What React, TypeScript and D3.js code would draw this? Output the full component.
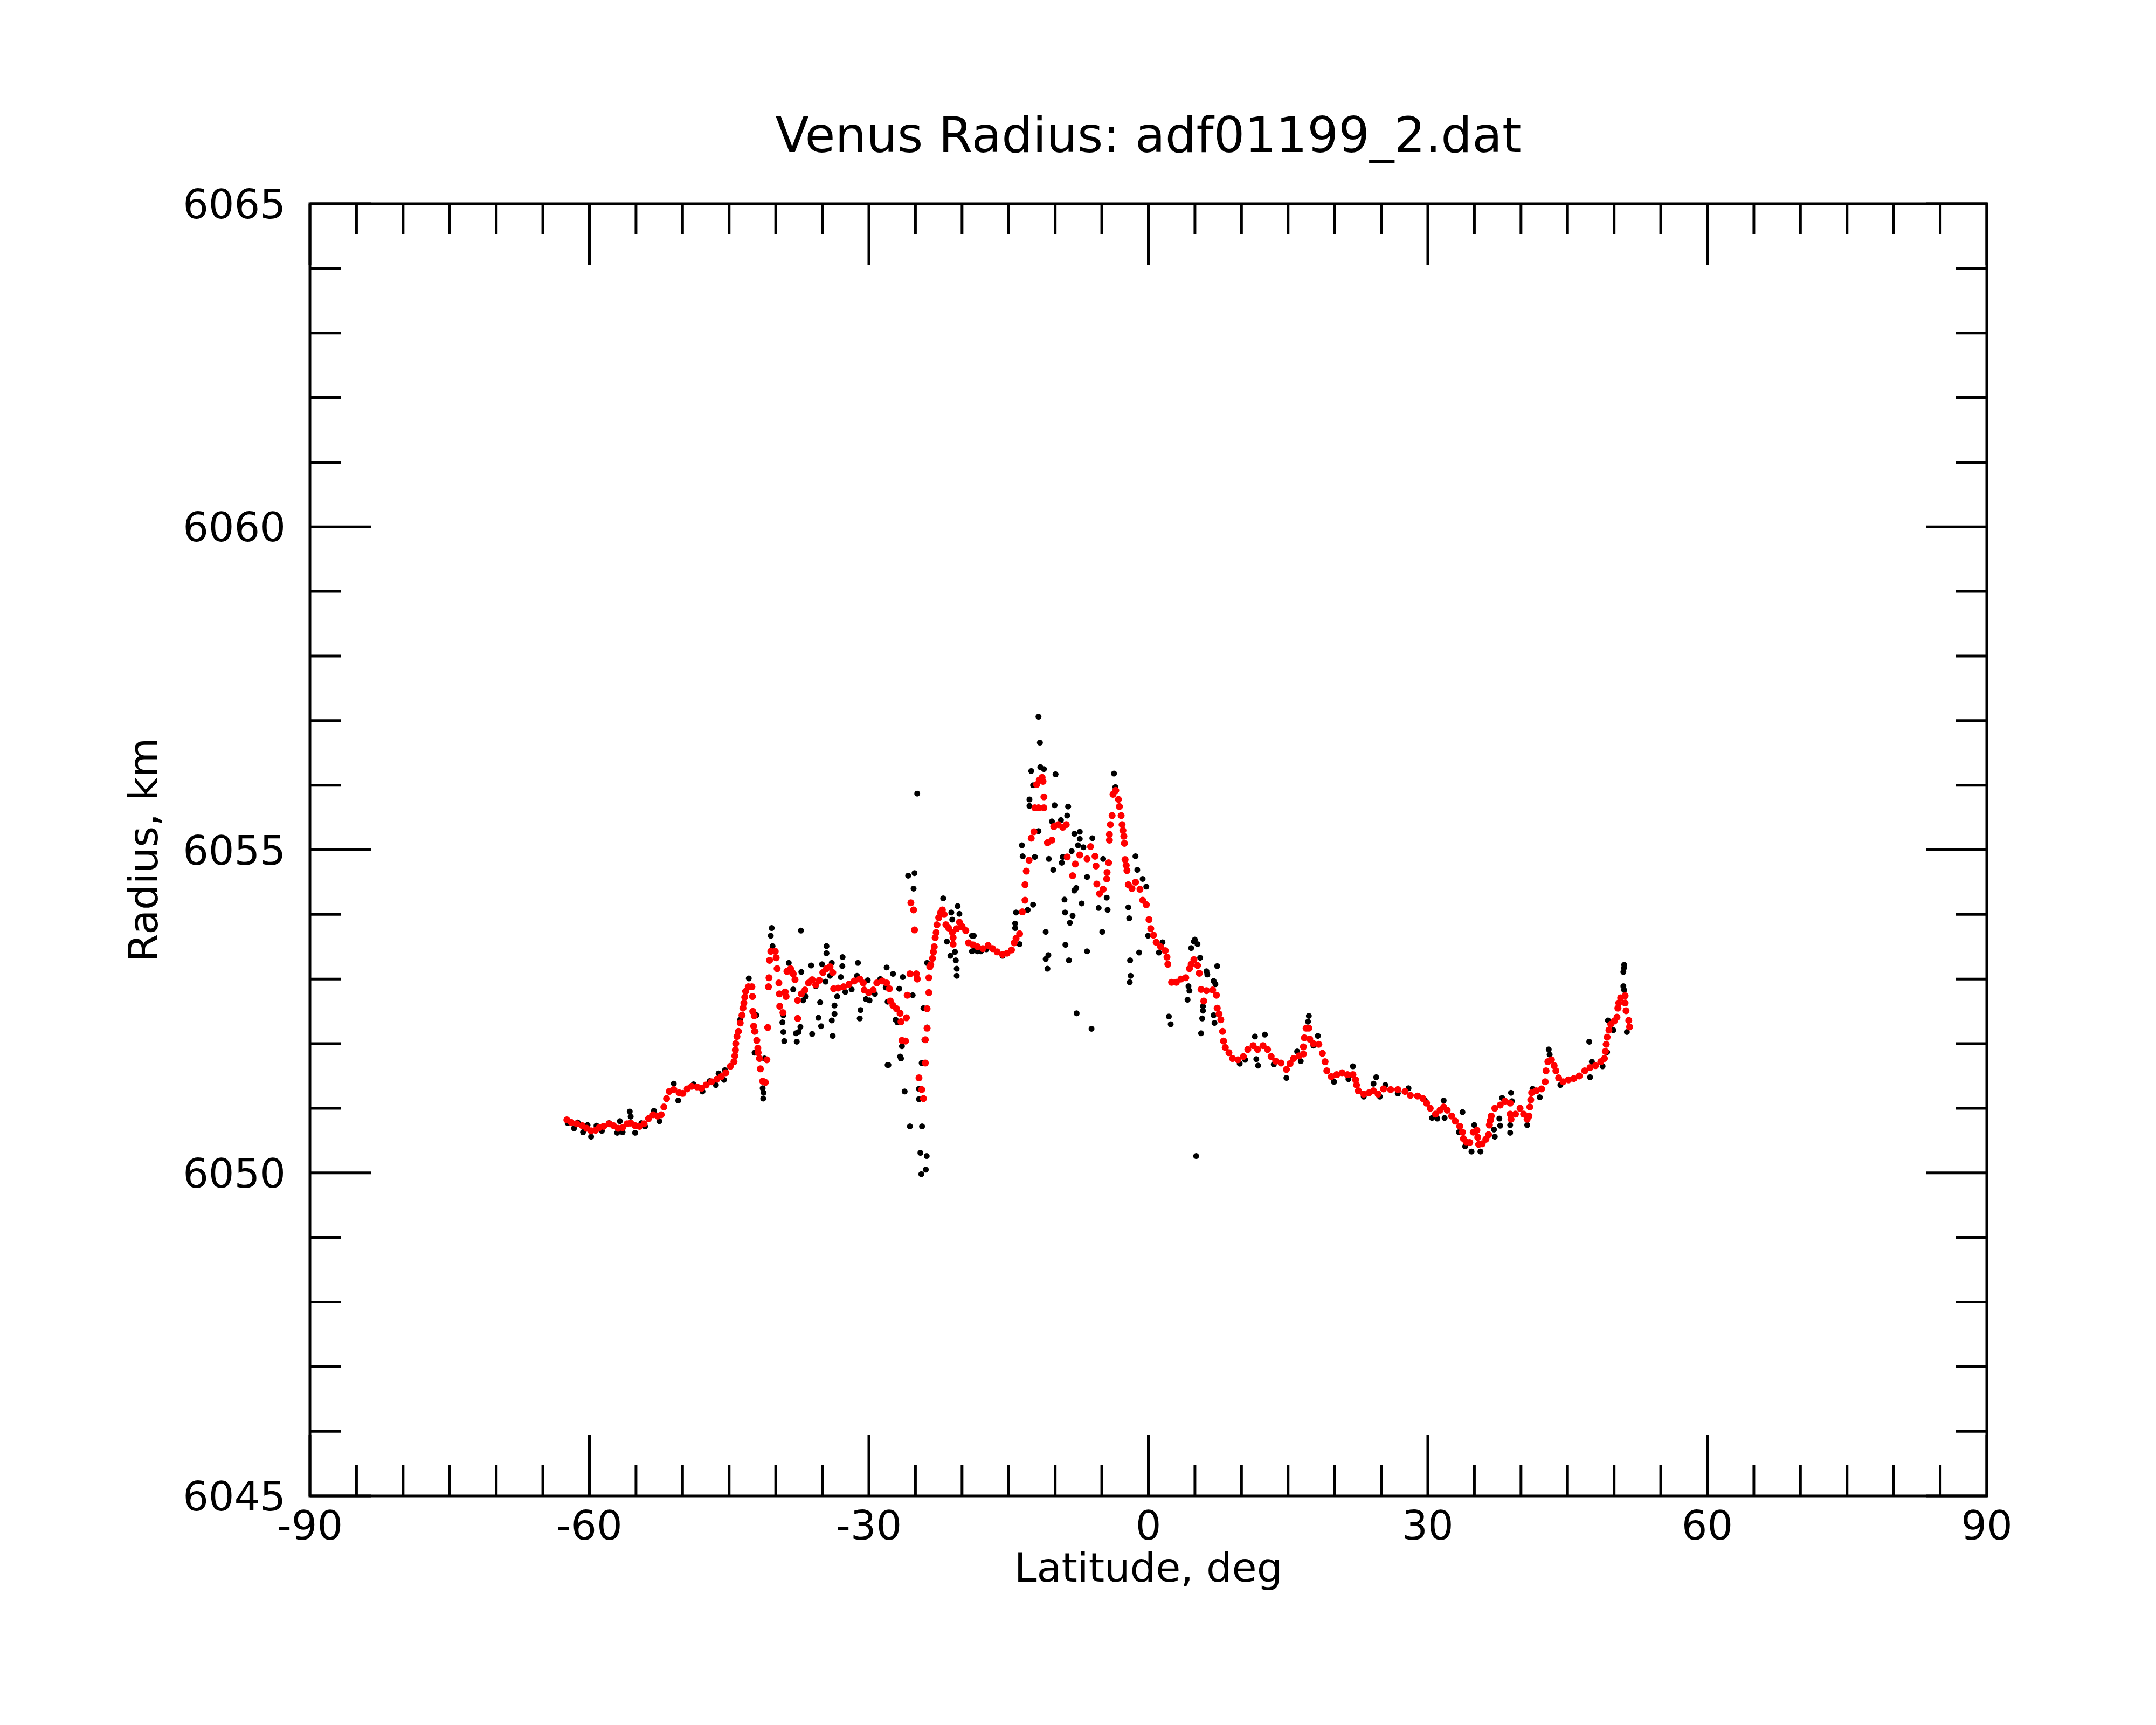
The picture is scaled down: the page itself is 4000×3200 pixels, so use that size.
import React from 'react';
import * as d3 from 'd3';

const chartTitle = 'Venus Radius: adf01199_2.dat';
const xAxisTitle = 'Latitude, deg';
const yAxisTitle = 'Radius, km';
const xTickValues = [-90, -60, -30, 0, 30, 60, 90];
const yTickValues = [6045, 6050, 6055, 6060, 6065];

// raw radius samples [latitude, radius] (black)
const rawPoints: [number, number][] = [
  [-62.33, 6050.77], [-61.65, 6050.69], [-61.26, 6050.78], [-60.68, 6050.63], [-60.2, 6050.74],
  [-59.82, 6050.56], [-59.24, 6050.73], [-58.66, 6050.65], [-57.89, 6050.77], [-57.02, 6050.62],
  [-56.73, 6050.8], [-56.44, 6050.63], [-55.67, 6050.95], [-55.57, 6050.87], [-55.09, 6050.62],
  [-54.42, 6050.77], [-54.03, 6050.72], [-53.07, 6050.96], [-52.49, 6050.8], [-50.94, 6051.38],
  [-50.46, 6051.12], [-48.82, 6051.37], [-47.86, 6051.26], [-47.09, 6051.42], [-46.42, 6051.36],
  [-46.13, 6051.54], [-45.55, 6051.44], [-45.45, 6051.59], [-43.81, 6052.37], [-42.89, 6053.01],
  [-42.08, 6052.44], [-42.17, 6052.19], [-42.27, 6051.86], [-41.4, 6051.31], [-41.3, 6051.24],
  [-41.34, 6051.15], [-41.21, 6051.77], [-40.43, 6053.79], [-40.53, 6053.67], [-40.34, 6053.51],
  [-39.18, 6052.44], [-39.28, 6052.33], [-39.18, 6052.18], [-39.08, 6052.04], [-38.6, 6053.25],
  [-38.12, 6052.84], [-37.83, 6052.16], [-37.74, 6052.03], [-37.29, 6053.75], [-37.54, 6052.18],
  [-37.35, 6052.26], [-37.25, 6053.11], [-37.06, 6052.67], [-36.77, 6052.73], [-36.09, 6052.15],
  [-36.19, 6053.21], [-35.71, 6052.89], [-35.42, 6052.4], [-35.13, 6052.27], [-35.23, 6052.64],
  [-35.03, 6053.23], [-34.65, 6052.96], [-34.55, 6053.51], [-34.55, 6053.4], [-33.98, 6053.25],
  [-34.17, 6053.05], [-33.88, 6052.12], [-33.98, 6052.36], [-33.69, 6052.46], [-33.69, 6052.59],
  [-33.4, 6052.73], [-32.82, 6053.34], [-32.85, 6053.2], [-33.01, 6053.03], [-32.53, 6052.8],
  [-31.85, 6052.84], [-31.17, 6053.25], [-30.89, 6052.52], [-30.98, 6052.39], [-31.27, 6053.05],
  [-30.12, 6052.98], [-30.31, 6052.69], [-29.93, 6052.67], [-29.35, 6052.77], [-28.77, 6053.0],
  [-28.09, 6053.18], [-28.19, 6052.87], [-27.41, 6053.08], [-27.99, 6052.65], [-27.99, 6051.67],
  [-26.74, 6052.85], [-26.36, 6053.03], [-27.13, 6052.37], [-26.93, 6052.33], [-26.45, 6051.96],
  [-26.55, 6051.77], [-26.16, 6051.26], [-25.3, 6052.75], [-24.14, 6052.55], [-24.04, 6052.06],
  [-24.33, 6051.7], [-23.75, 6052.25], [-23.75, 6053.25], [-22.02, 6054.25], [-21.15, 6054.03],
  [-20.47, 6054.13], [-20.28, 6054.01], [-21.63, 6053.58], [-21.25, 6053.36], [-20.67, 6053.29],
  [-20.57, 6053.16], [-20.57, 6053.05], [-21.05, 6053.92], [-18.93, 6053.67], [-18.93, 6053.43],
  [-18.64, 6053.47], [-17.97, 6053.43], [-26.64, 6051.8], [-27.9, 6051.67], [-24.62, 6051.3],
  [-24.62, 6051.14], [-25.59, 6050.72], [-24.29, 6050.72], [-24.47, 6050.31], [-23.79, 6050.26],
  [-23.89, 6050.05], [-24.37, 6049.98], [-24.81, 6055.87], [-25.78, 6054.6], [-25.1, 6054.64],
  [-25.2, 6054.4], [-20.76, 6053.42], [-18.74, 6053.67], [-18.35, 6053.43], [-17.38, 6053.46],
  [-15.65, 6053.36], [-14.3, 6053.86], [-14.3, 6053.79], [-14.2, 6054.03], [-13.82, 6053.54],
  [-12.95, 6054.07], [-12.37, 6054.15], [-13.57, 6055.07], [-13.49, 6054.9], [-12.18, 6054.89],
  [-11.79, 6055.29], [-12.76, 6055.78], [-12.76, 6055.68], [-12.57, 6056.22], [-12.37, 6056.0],
  [-11.64, 6056.66], [-11.79, 6057.06], [-11.6, 6056.28], [-11.21, 6056.25], [-9.96, 6056.17],
  [-10.06, 6055.69], [-8.61, 6055.67], [-8.71, 6055.53], [-10.35, 6055.44], [-9.38, 6055.46],
  [-10.68, 6054.86], [-10.21, 6054.69], [-7.94, 6055.25], [-8.23, 6054.98], [-9.29, 6054.8],
  [-7.94, 6054.37], [-9.0, 6054.23], [-8.94, 6054.03], [-8.13, 6053.98], [-8.42, 6053.87],
  [-11.02, 6053.73], [-8.9, 6053.53], [-10.73, 6053.37], [-11.02, 6053.31], [-8.52, 6053.29],
  [-10.83, 6053.16], [-7.7, 6052.47], [-6.1, 6052.23], [-3.69, 6056.18], [-3.54, 6055.97],
  [-7.36, 6055.28], [-7.36, 6055.17], [-6.01, 6055.18], [-7.55, 6055.07], [-6.97, 6055.04],
  [-6.58, 6054.58], [-4.85, 6054.86], [-1.38, 6054.9], [-1.19, 6054.69], [-0.61, 6054.55],
  [-0.22, 6054.43], [-7.74, 6054.41], [-7.16, 6054.17], [-5.33, 6054.1], [-4.37, 6054.07],
  [-4.47, 6054.26], [-2.15, 6054.11], [-2.05, 6053.94], [-4.95, 6053.73], [-0.03, 6053.67],
  [-6.58, 6053.43], [-0.99, 6053.41], [-1.96, 6053.29], [1.13, 6053.41], [1.52, 6053.57],
  [-9.19, 6054.89], [-1.9, 6053.05], [-2.0, 6052.95], [2.2, 6052.42], [2.4, 6052.3],
  [4.99, 6053.61], [4.6, 6053.48], [5.56, 6053.33], [7.39, 6053.2], [5.13, 6050.26],
  [4.89, 6053.58], [5.28, 6053.54], [6.24, 6053.12], [6.33, 6053.07], [7.01, 6052.97],
  [7.2, 6052.92], [4.31, 6052.89], [4.41, 6052.82], [4.21, 6052.68], [5.86, 6052.58],
  [5.86, 6052.51], [7.01, 6052.44], [5.78, 6052.39], [7.1, 6052.32], [5.66, 6052.16],
  [11.44, 6052.11], [12.51, 6052.14], [11.59, 6051.76], [11.78, 6051.66], [9.81, 6051.69],
  [10.39, 6051.75], [17.23, 6052.43], [17.14, 6052.34], [18.2, 6052.12], [17.72, 6051.97],
  [15.98, 6051.88], [16.36, 6051.73], [14.82, 6051.47], [13.47, 6051.68], [21.96, 6051.65],
  [24.46, 6051.48], [24.17, 6051.38], [25.44, 6051.36], [19.93, 6051.41], [21.48, 6051.45],
  [27.93, 6051.31], [23.12, 6051.18], [24.85, 6051.18], [26.78, 6051.23], [29.67, 6051.13],
  [51.08, 6053.22], [51.05, 6053.17], [50.99, 6053.11], [50.99, 6052.89], [51.08, 6052.83],
  [49.34, 6052.36], [49.92, 6052.21], [51.37, 6052.18], [47.33, 6052.03], [49.25, 6051.87],
  [48.76, 6051.65], [47.61, 6051.72], [47.42, 6051.48], [42.98, 6051.91], [43.08, 6051.83],
  [44.23, 6051.36], [41.24, 6051.3], [42.02, 6051.17], [38.93, 6051.24], [39.03, 6051.11],
  [37.97, 6051.16], [37.68, 6050.84], [37.77, 6050.73], [37.1, 6050.67], [37.19, 6050.56],
  [38.84, 6050.62], [38.84, 6050.74], [40.67, 6050.74], [33.72, 6050.94], [31.7, 6051.12],
  [31.8, 6050.85], [30.45, 6050.85], [31.02, 6050.84], [34.98, 6050.74], [34.69, 6050.33],
  [35.65, 6050.33], [34.01, 6050.41], [33.34, 6050.63],
];

// smoothed radius profile [latitude, radius] (red)
const smoothPoints: [number, number][] = [
  [-62.42, 6050.82], [-61.94, 6050.78], [-61.36, 6050.76], [-60.78, 6050.73], [-60.3, 6050.69],
  [-59.82, 6050.65], [-59.34, 6050.66], [-58.95, 6050.7], [-58.47, 6050.72], [-57.89, 6050.76],
  [-57.41, 6050.73], [-56.92, 6050.69], [-56.44, 6050.7], [-55.96, 6050.76], [-55.57, 6050.77],
  [-55.09, 6050.73], [-54.61, 6050.72], [-54.13, 6050.76], [-53.65, 6050.84], [-53.16, 6050.9],
  [-52.68, 6050.88], [-52.29, 6050.9], [-52.01, 6051.02], [-51.72, 6051.15], [-51.43, 6051.26],
  [-50.94, 6051.29], [-50.37, 6051.24], [-49.98, 6051.23], [-49.5, 6051.3], [-49.02, 6051.34],
  [-48.44, 6051.33], [-47.95, 6051.31], [-47.47, 6051.36], [-46.9, 6051.41], [-46.32, 6051.45],
  [-45.84, 6051.49], [-45.35, 6051.55], [-44.87, 6051.65], [-44.48, 6051.72], [-44.39, 6051.81],
  [-44.33, 6051.9], [-44.29, 6052.0], [-44.16, 6052.11], [-44.0, 6052.19], [-43.81, 6052.32],
  [-43.62, 6052.44], [-43.52, 6052.55], [-43.42, 6052.63], [-43.33, 6052.72], [-43.23, 6052.81],
  [-42.94, 6052.88], [-42.56, 6052.88], [-42.5, 6052.73], [-42.46, 6052.5], [-42.31, 6052.43],
  [-42.37, 6052.27], [-42.27, 6052.19], [-42.03, 6052.05], [-41.92, 6051.93], [-41.88, 6051.86],
  [-41.75, 6051.77], [-41.65, 6051.61], [-41.4, 6051.42], [-41.11, 6051.4], [-40.95, 6051.75],
  [-40.86, 6052.25], [-40.78, 6052.88], [-40.72, 6053.02], [-40.66, 6053.29], [-40.53, 6053.43],
  [-40.05, 6053.43], [-39.95, 6053.33], [-39.85, 6053.16], [-39.66, 6052.94], [-39.61, 6052.77],
  [-39.57, 6052.58], [-39.22, 6052.48], [-38.99, 6052.8], [-38.89, 6052.73], [-38.8, 6053.12],
  [-38.41, 6053.16], [-38.22, 6053.1], [-38.12, 6053.08], [-37.93, 6052.99], [-37.64, 6052.67],
  [-37.64, 6052.39], [-37.25, 6052.77], [-36.86, 6052.83], [-36.48, 6052.94], [-36.09, 6052.99],
  [-35.71, 6052.91], [-35.32, 6052.98], [-34.94, 6053.1], [-34.55, 6053.16], [-34.17, 6053.19],
  [-33.88, 6053.1], [-33.78, 6052.85], [-33.3, 6052.86], [-32.72, 6052.88], [-32.14, 6052.92],
  [-31.56, 6052.97], [-30.98, 6053.0], [-30.6, 6052.94], [-30.5, 6052.83], [-30.02, 6052.79],
  [-29.54, 6052.83], [-29.15, 6052.94], [-28.57, 6052.97], [-28.09, 6052.94], [-27.8, 6052.85],
  [-27.7, 6052.66], [-27.41, 6052.59], [-27.03, 6052.54], [-26.65, 6052.47], [-26.55, 6052.34],
  [-26.45, 6052.05], [-26.07, 6052.04], [-25.97, 6052.4], [-25.88, 6052.75], [-25.59, 6053.08],
  [-25.49, 6054.18], [-25.2, 6054.07], [-25.1, 6053.76], [-24.91, 6053.08], [-24.81, 6053.0],
  [-24.62, 6051.47], [-24.33, 6051.29], [-24.14, 6051.15], [-23.94, 6051.7], [-23.94, 6052.06],
  [-23.75, 6052.24], [-23.75, 6052.54], [-23.56, 6052.79], [-23.56, 6053.02], [-23.46, 6053.19],
  [-23.36, 6053.22], [-23.17, 6053.32], [-23.07, 6053.42], [-22.98, 6053.5], [-22.88, 6053.64],
  [-22.78, 6053.72], [-22.69, 6053.84], [-22.5, 6053.95], [-22.3, 6054.03], [-22.11, 6054.07],
  [-21.92, 6054.0], [-21.73, 6053.84], [-21.44, 6053.79], [-21.05, 6053.72], [-20.96, 6053.64],
  [-20.96, 6053.54], [-20.57, 6053.78], [-20.28, 6053.88], [-19.99, 6053.81], [-19.6, 6053.75],
  [-19.31, 6053.56], [-18.83, 6053.53], [-18.35, 6053.5], [-17.77, 6053.47], [-17.2, 6053.52],
  [-16.72, 6053.47], [-16.23, 6053.42], [-15.65, 6053.38], [-15.17, 6053.4], [-14.69, 6053.45],
  [-14.4, 6053.56], [-14.2, 6053.63], [-13.82, 6053.7], [-13.53, 6054.04], [-13.24, 6054.22],
  [-13.24, 6054.46], [-13.1, 6054.67], [-12.8, 6054.84], [-12.57, 6055.18], [-12.28, 6055.28],
  [-12.18, 6055.65], [-11.79, 6055.65], [-11.21, 6055.65], [-11.21, 6055.82], [-11.99, 6056.01],
  [-11.7, 6056.08], [-11.41, 6056.12], [-11.31, 6056.06], [-10.83, 6055.11], [-10.35, 6055.15],
  [-10.15, 6055.36], [-9.67, 6055.39], [-9.19, 6055.35], [-8.81, 6055.39], [-8.71, 6054.89],
  [-8.13, 6054.6], [-7.84, 6054.78], [-7.36, 6054.92], [-6.58, 6054.86], [-6.2, 6055.05],
  [-5.72, 6054.9], [-5.62, 6054.75], [-5.53, 6054.47], [-5.24, 6054.32], [-4.85, 6054.39],
  [-4.47, 6054.55], [-4.43, 6054.65], [-4.27, 6054.8], [-4.18, 6055.15], [-4.18, 6055.24],
  [-4.08, 6055.39], [-3.89, 6055.53], [-3.79, 6055.86], [-3.5, 6055.92], [-3.21, 6055.78],
  [-3.11, 6055.67], [-2.92, 6055.53], [-2.82, 6055.39], [-2.73, 6055.3], [-2.63, 6055.21],
  [-2.57, 6055.1], [-2.5, 6054.85], [-2.38, 6054.76], [-2.3, 6054.68], [-2.15, 6054.46],
  [-1.76, 6054.4], [-1.38, 6054.5], [-0.9, 6054.39], [-0.61, 6054.22], [-0.22, 6054.15],
  [0.07, 6053.92], [0.26, 6053.78], [0.55, 6053.68], [0.84, 6053.57], [1.32, 6053.5],
  [1.81, 6053.44], [2.0, 6053.34], [2.09, 6053.23], [2.5, 6052.95], [3.0, 6052.95],
  [3.5, 6053.0], [4.02, 6053.02], [4.41, 6053.16], [4.6, 6053.23], [4.89, 6053.3],
  [5.28, 6053.21], [5.47, 6053.09], [5.66, 6052.84], [5.95, 6052.66], [6.24, 6052.82],
  [6.91, 6052.83], [7.3, 6052.75], [7.39, 6052.55], [7.59, 6052.46], [7.78, 6052.37],
  [7.97, 6052.19], [8.07, 6052.04], [8.26, 6051.94], [8.65, 6051.86], [9.04, 6051.77],
  [9.62, 6051.75], [10.2, 6051.8], [10.68, 6051.91], [11.25, 6051.97], [11.73, 6051.91],
  [12.31, 6051.97], [12.8, 6051.91], [13.18, 6051.8], [13.67, 6051.73], [14.24, 6051.7],
  [14.82, 6051.6], [15.21, 6051.69], [15.59, 6051.77], [16.17, 6051.81], [16.65, 6051.84],
  [16.65, 6051.95], [16.75, 6052.09], [16.94, 6052.24], [17.23, 6052.24], [17.33, 6052.07],
  [17.72, 6052.0], [18.3, 6051.99], [18.68, 6051.85], [18.97, 6051.72], [19.16, 6051.58],
  [19.64, 6051.49], [20.22, 6051.52], [20.8, 6051.55], [21.38, 6051.52], [21.96, 6051.52],
  [22.25, 6051.44], [22.35, 6051.36], [22.54, 6051.27], [23.12, 6051.22], [23.69, 6051.24],
  [24.17, 6051.27], [24.66, 6051.22], [25.24, 6051.3], [26.01, 6051.29], [26.78, 6051.29],
  [27.55, 6051.26], [28.13, 6051.2], [28.9, 6051.19], [29.48, 6051.15], [29.87, 6051.08],
  [30.26, 6051.0], [30.83, 6050.91], [31.31, 6050.97], [31.7, 6051.02], [32.08, 6050.97],
  [32.56, 6050.88], [32.95, 6050.8], [33.43, 6050.72], [33.72, 6050.63], [33.82, 6050.53],
  [34.11, 6050.48], [34.5, 6050.47], [34.88, 6050.63], [35.27, 6050.66], [35.36, 6050.55],
  [35.46, 6050.44], [35.84, 6050.45], [36.23, 6050.52], [36.52, 6050.59], [36.61, 6050.74],
  [36.71, 6050.81], [36.81, 6050.88], [37.19, 6051.0], [37.77, 6051.05], [38.26, 6051.11],
  [38.84, 6051.08], [38.84, 6050.91], [38.93, 6050.83], [39.41, 6050.91], [39.9, 6051.0],
  [40.28, 6050.91], [40.66, 6050.83], [40.86, 6050.88], [40.95, 6051.02], [41.05, 6051.13],
  [41.15, 6051.24], [41.63, 6051.27], [42.21, 6051.3], [42.6, 6051.41], [42.69, 6051.58],
  [42.89, 6051.72], [43.27, 6051.75], [43.56, 6051.66], [43.75, 6051.58], [44.04, 6051.47],
  [44.52, 6051.41], [45.1, 6051.44], [45.68, 6051.46], [46.26, 6051.5], [46.84, 6051.58],
  [47.42, 6051.63], [48.0, 6051.66], [48.57, 6051.72], [48.96, 6051.77], [49.06, 6051.88],
  [49.15, 6051.99], [49.25, 6052.1], [49.44, 6052.21], [49.64, 6052.3], [50.02, 6052.35],
  [50.31, 6052.41], [50.41, 6052.55], [50.5, 6052.63], [50.7, 6052.71], [51.18, 6052.74],
  [51.18, 6052.63], [51.28, 6052.51], [51.57, 6052.36], [51.66, 6052.26],
];

const width = 4000;
const height = 3200;
const plot = { left: 575, right: 3686, top: 378, bottom: 2775 };
const font = '"DejaVu Sans", sans-serif';

const App: React.FC = () => {
  const x = d3.scaleLinear().domain([-90, 90]).range([plot.left, plot.right]);
  const y = d3.scaleLinear().domain([6045, 6065]).range([plot.bottom, plot.top]);

  const xMinor = d3.range(-90, 91, 5).filter((v) => v % 30 !== 0);
  const yMinor = d3.range(6045, 6066, 1).filter((v) => v % 5 !== 0);
  const majorLen = 113;
  const minorLen = 57;
  const tickWidth = 5;

  return (
    <svg
      width={width}
      height={height}
      style={{ position: 'absolute', left: 0, top: 0, display: 'block' }}
    >
      <rect x={0} y={0} width={width} height={height} fill="#ffffff" />

      {/* title */}
      <text
        x={(plot.left + plot.right) / 2}
        y={282}
        textAnchor="middle"
        fontFamily={font}
        fontSize={91}
        fill="#000"
      >
        {chartTitle}
      </text>

      {/* ticks on all four sides, pointing inward */}
      <g stroke="#000" strokeWidth={tickWidth}>
        {xTickValues.map((v) => (
          <g key={`xM${v}`}>
            <line x1={x(v)} x2={x(v)} y1={plot.bottom} y2={plot.bottom - majorLen} />
            <line x1={x(v)} x2={x(v)} y1={plot.top} y2={plot.top + majorLen} />
          </g>
        ))}
        {xMinor.map((v) => (
          <g key={`xm${v}`}>
            <line x1={x(v)} x2={x(v)} y1={plot.bottom} y2={plot.bottom - minorLen} />
            <line x1={x(v)} x2={x(v)} y1={plot.top} y2={plot.top + minorLen} />
          </g>
        ))}
        {yTickValues.map((v) => (
          <g key={`yM${v}`}>
            <line x1={plot.left} x2={plot.left + majorLen} y1={y(v)} y2={y(v)} />
            <line x1={plot.right} x2={plot.right - majorLen} y1={y(v)} y2={y(v)} />
          </g>
        ))}
        {yMinor.map((v) => (
          <g key={`ym${v}`}>
            <line x1={plot.left} x2={plot.left + minorLen} y1={y(v)} y2={y(v)} />
            <line x1={plot.right} x2={plot.right - minorLen} y1={y(v)} y2={y(v)} />
          </g>
        ))}
      </g>

      {/* frame */}
      <rect
        x={plot.left}
        y={plot.top}
        width={plot.right - plot.left}
        height={plot.bottom - plot.top}
        fill="none"
        stroke="#000"
        strokeWidth={5}
      />

      {/* tick labels */}
      {xTickValues.map((v) => (
        <text
          key={`xl${v}`}
          x={x(v)}
          y={plot.bottom + 81}
          textAnchor="middle"
          fontFamily={font}
          fontSize={75}
          fill="#000"
        >
          {v}
        </text>
      ))}
      {yTickValues.map((v) => (
        <text
          key={`yl${v}`}
          x={plot.left - 45}
          y={y(v) + 27}
          textAnchor="end"
          fontFamily={font}
          fontSize={75}
          fill="#000"
        >
          {v}
        </text>
      ))}

      {/* axis titles */}
      <text
        x={(plot.left + plot.right) / 2}
        y={2934}
        textAnchor="middle"
        fontFamily={font}
        fontSize={75}
        fill="#000"
      >
        {xAxisTitle}
      </text>
      <text
        x={292}
        y={(plot.top + plot.bottom) / 2}
        textAnchor="middle"
        fontFamily={font}
        fontSize={75}
        fill="#000"
        transform={`rotate(-90 292 ${(plot.top + plot.bottom) / 2})`}
      >
        {yAxisTitle}
      </text>

      {/* raw samples */}
      <g fill="#000">
        {rawPoints.map((d, i) => (
          <circle key={`r${i}`} cx={x(d[0])} cy={y(d[1])} r={5.5} />
        ))}
      </g>

      {/* smoothed profile */}
      <g fill="#ff0000">
        {smoothPoints.map((d, i) => (
          <circle key={`s${i}`} cx={x(d[0])} cy={y(d[1])} r={6.5} />
        ))}
      </g>
    </svg>
  );
};

export default App;
